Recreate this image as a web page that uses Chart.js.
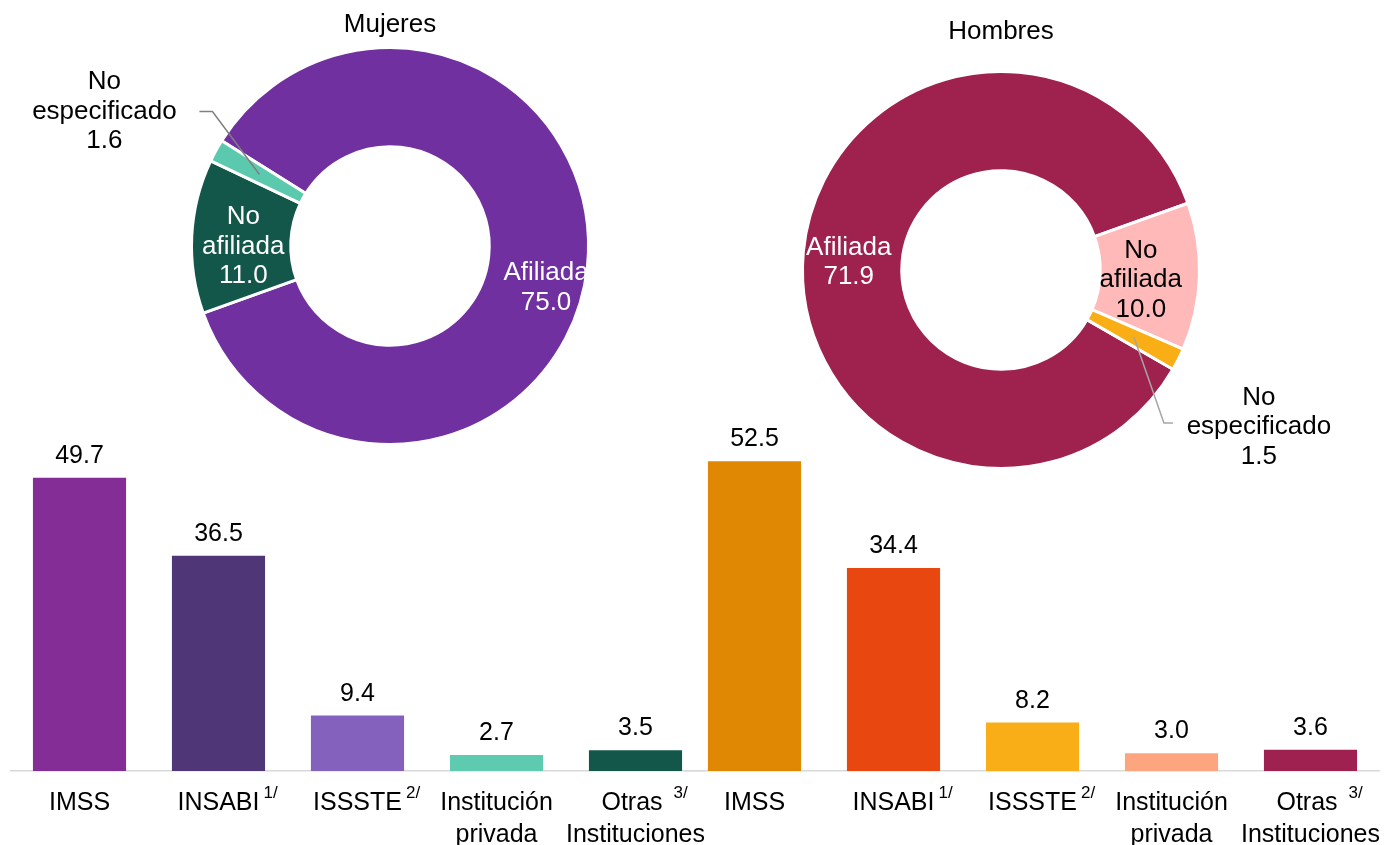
<!DOCTYPE html>
<html>
<head>
<meta charset="utf-8">
<script src="https://cdn.jsdelivr.net/npm/chart.js@4.4.1/dist/chart.umd.min.js"></script>
<style>
  html, body { margin: 0; padding: 0; background: #fff; }
  body { width: 1384px; height: 845px; position: relative; overflow: hidden; }
  canvas { position: absolute; }
</style>
</head>
<body>
<canvas id="barsM" width="695" height="428" style="left:10px;top:417px"></canvas>
<canvas id="barsH" width="695" height="428" style="left:685px;top:417px"></canvas>
<canvas id="donutM" width="700" height="470" style="left:0px;top:0px"></canvas>
<canvas id="donutH" width="684" height="490" style="left:700px;top:0px"></canvas>
<script>
// donut data
const donutLabels = ['Afiliada', 'No afiliada', 'No especificado'];
const mujeresValues = [75.0, 11.0, 1.6];
const hombresValues = [71.9, 10.0, 1.5];
const mujeresColors = ['#7030A0', '#12574A', '#5BC9AE'];
const hombresColors = ['#9F214D', '#FFB9B9', '#F9AE16'];

// bar data
const barCategories = [['IMSS'], ['INSABI'], ['ISSSTE'], ['Institución', 'privada'], ['Otras ', 'Instituciones']];
const barSuperscripts = ['', '1/', '2/', '', '3/'];
const mujeresBarValues = [49.7, 36.5, 9.4, 2.7, 3.5];
const hombresBarValues = [52.5, 34.4, 8.2, 3.0, 3.6];
const mujeresBarColors = ['#852D97', '#4F3677', '#8361BC', '#5ECAAF', '#12574A'];
const hombresBarColors = ['#E08803', '#E84710', '#F9AE17', '#FDA57E', '#9E2150'];

const FONT = '"Liberation Sans", Arial, sans-serif';
Chart.defaults.font.family = FONT;

// labels on the rings + leader lines for the small slice
const ringLabels = {
  id: 'ringLabels',
  afterDatasetsDraw(chart, args, opts) {
    const ctx = chart.ctx;
    const meta = chart.getDatasetMeta(0);
    const values = chart.data.datasets[0].data;
    const cx = meta.data[0].x;
    ctx.save();
    ctx.font = '26px ' + FONT;
    ctx.textAlign = 'center';
    ctx.textBaseline = 'middle';
    // title
    ctx.fillStyle = '#000';
    ctx.fillText(opts.title, cx, opts.titleY);
    meta.data.forEach((arc, i) => {
      const cfg = opts.items[i];
      const p = arc.tooltipPosition();
      const lines = chart.data.labels[i].split(' ').concat(values[i].toFixed(1));
      if (cfg.elbow) {
        ctx.strokeStyle = opts.lineColor;
        ctx.lineWidth = 1.5;
        ctx.beginPath();
        ctx.moveTo(p.x, p.y);
        ctx.lineTo(p.x + cfg.elbow[0], p.y + cfg.elbow[1]);
        ctx.lineTo(p.x + cfg.end[0], p.y + cfg.end[1]);
        ctx.stroke();
      }
      const x = p.x + cfg.dx;
      const y = p.y + cfg.dy;
      const lh = 29.5;
      ctx.fillStyle = cfg.color;
      lines.forEach((t, k) => {
        ctx.fillText(t, x, y + (k - (lines.length - 1) / 2) * lh);
      });
    });
    ctx.restore();
  }
};

function makeDonut(id, values, colors, rotation, padding, labelOpts) {
  return new Chart(document.getElementById(id), {
    type: 'doughnut',
    data: {
      labels: donutLabels,
      datasets: [{
        data: values,
        backgroundColor: colors,
        borderColor: '#ffffff',
        borderWidth: 3
      }]
    },
    options: {
      responsive: false,
      animation: false,
      cutout: '50%',
      rotation: rotation,
      layout: { padding: padding },
      plugins: {
        legend: { display: false },
        tooltip: { enabled: false },
        ringLabels: labelOpts
      }
    },
    plugins: [ringLabels]
  });
}

makeDonut('donutM', mujeresValues, mujeresColors, -58,
  { left: 190, right: 110, top: 46, bottom: 24 },
  {
    title: 'Mujeres', titleY: 25, lineColor: '#7f7f7f',
    items: [
      { color: '#fff', dx: 8, dy: 26 },
      { color: '#fff', dx: 2, dy: 8 },
      { color: '#000', dx: -155, dy: -63, elbow: [-47, -63], end: [-60, -63] }
    ]
  });

makeDonut('donutH', hombresValues, hombresColors, 120,
  { left: 101, right: 183, top: 70, bottom: 20 },
  {
    title: 'Hombres', titleY: 32, lineColor: '#a6a6a6',
    items: [
      { color: '#fff', dx: -4, dy: 6 },
      { color: '#000', dx: -9, dy: 5 },
      { color: '#000', dx: 125, dy: 90, elbow: [30, 86], end: [39, 86] }
    ]
  });

// value labels above bars and category labels under the axis
const barText = {
  id: 'barText',
  afterDatasetsDraw(chart) {
    const ctx = chart.ctx;
    const meta = chart.getDatasetMeta(0);
    const values = chart.data.datasets[0].data;
    const xScale = chart.scales.x;
    const base = chart.chartArea.bottom;
    ctx.save();
    ctx.fillStyle = '#000';
    ctx.textBaseline = 'alphabetic';
    meta.data.forEach((bar, i) => {
      ctx.font = '25px ' + FONT;
      ctx.textAlign = 'center';
      ctx.fillText(values[i].toFixed(1), bar.x, bar.y - 15);

      const x = xScale.getPixelForValue(i);
      const lines = barCategories[i];
      lines.forEach((t, k) => {
        ctx.textAlign = 'center';
        ctx.font = '25px ' + FONT;
        ctx.fillText(t, x, base + 39 + k * 32);
      });
      if (barSuperscripts[i]) {
        const w = ctx.measureText(lines[0]).width;
        ctx.font = '17px ' + FONT;
        ctx.textAlign = 'left';
        ctx.fillText(barSuperscripts[i], x + w / 2 + 4, base + 27);
      }
    });
    ctx.restore();
  }
};

function makeBars(id, values, colors) {
  return new Chart(document.getElementById(id), {
    type: 'bar',
    data: {
      labels: barCategories.map(c => c.join(' ')),
      datasets: [{
        data: values,
        backgroundColor: colors,
        barPercentage: 0.67,
        categoryPercentage: 1
      }]
    },
    options: {
      responsive: false,
      animation: false,
      layout: { padding: { top: 0, bottom: 74, left: 0, right: 0 } },
      scales: {
        x: {
          grid: { display: false, drawTicks: false },
          border: { display: true, color: '#d9d9d9', width: 1.5 },
          ticks: { display: false }
        },
        y: { display: false, min: 0, max: 60 }
      },
      plugins: {
        legend: { display: false },
        tooltip: { enabled: false }
      }
    },
    plugins: [barText]
  });
}

makeBars('barsM', mujeresBarValues, mujeresBarColors);
makeBars('barsH', hombresBarValues, hombresBarColors);
</script>
</body>
</html>
